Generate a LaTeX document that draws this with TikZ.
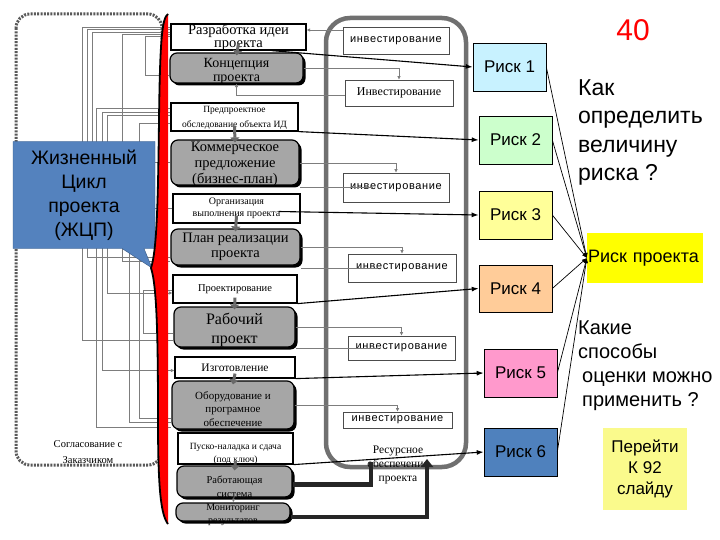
\documentclass[tikz,border=0pt]{standalone}
\usepackage{fontspec}
\setmainfont{Liberation Serif}
\setsansfont{Liberation Sans}
\usetikzlibrary{arrows.meta,shapes.callouts,shadows}

\definecolor{boxgray}{RGB}{166,166,166}
\definecolor{linegray}{RGB}{125,125,125}
\definecolor{arrowgray}{RGB}{105,105,105}
\definecolor{framegray}{RGB}{112,112,112}
\definecolor{callblue}{RGB}{84,130,190}
\definecolor{riskA}{RGB}{200,242,255}
\definecolor{riskB}{RGB}{204,255,204}
\definecolor{riskC}{RGB}{255,255,153}
\definecolor{riskD}{RGB}{255,204,153}
\definecolor{riskE}{RGB}{255,153,204}
\definecolor{riskF}{RGB}{79,129,189}
\definecolor{projyellow}{RGB}{255,255,0}
\definecolor{gotoyellow}{RGB}{250,250,140}

\newcommand\fsz[2]{\fontsize{#1}{#2}\selectfont}
% text that may spill over its box, as in the slide
\newcommand\btext[2][0pt]{\makebox[0pt]{\raisebox{\dimexpr#1-0.25em\relax}[0pt][0pt]{\parbox[c]{6cm}{\centering #2}}}}

\begin{document}
\begin{tikzpicture}
  [x=1pt, y=-1pt,
   dims/.style 2 args={minimum width=#1pt, minimum height=#2pt},
   wbox/.style={draw, line width=1.2pt, fill=white, inner sep=0pt},
   gbox/.style={draw, line width=1.2pt, fill=boxgray, rounded corners=7pt, inner sep=0pt,
     drop shadow={shadow xshift=2.5pt, shadow yshift=-2.5pt, fill=black, opacity=1}},
   invbox/.style={draw=black!70, line width=0.6pt, fill=white, inner sep=0pt,
     font=\sffamily\fsz{11}{13}\addfontfeature{LetterSpace=6}},
   riskbox/.style={draw, line width=0.6pt, inner sep=0pt, minimum width=73pt, minimum height=48pt,
     font=\sffamily\fsz{17}{20}},
   gline/.style={draw=linegray, line width=0.8pt},
   garr/.style={gline, -{Latex[length=3.5pt,width=3.5pt]}},
   darr/.style={draw=arrowgray, line width=3pt, -{Triangle[length=5pt,width=9pt]}},
   rarr/.style={line width=1.1pt, -{Latex[length=7pt,width=5pt]}},
   tolink/.style={line width=0.7pt, -{Latex[length=5pt,width=4pt]}},
   feed/.style={draw=black!85, line width=4.5pt},
   dotframe/.style={draw=black!65, line width=3pt, dash pattern=on 2pt off 1.3pt, rounded corners=14pt},
   invframe/.style={draw=framegray, line width=4.5pt, rounded corners=24pt}]

  \useasboundingbox[fill=white] (0,0) rectangle (720,540);

  % left: agreement with the customer
  \draw[dotframe] (16,14) rectangle (162,465);
  \node[font=\fsz{10.5}{16}, align=center] (agree) at (88,452) {Согласование с\\Заказчиком};

  % life cycle stages (centre column)
  \node[wbox, dims={135}{26}] (idea) at (238.5,37) {\fsz{14.5}{13}\btext{Разработка идеи\\проекта}};
  \node[gbox, dims={133}{30}] (konc) at (236.5,68) {\fsz{14}{14}\btext[-4pt]{Концепция\\проекта}};
  \node[wbox, dims={127}{28}] (predpr) at (234.5,117) {\fsz{9.5}{15}\btext[-1pt]{Предпроектное\\обследование объекта ИД}};
  \node[gbox, dims={128}{45}] (komm) at (235,162.5) {\fsz{14.5}{16}\btext[-2pt]{Коммерческое\\предложение\\(бизнес-план)}};
  \node[wbox, dims={127}{29}] (org) at (236.5,208.5) {\fsz{10}{12}\btext{Организация\\выполнения проекта}};
  \node[gbox, dims={129}{36}] (plan) at (235.5,247) {\fsz{14.5}{15}\btext{План реализации\\проекта}};
  \node[wbox, dims={124}{28}] (proekt) at (235,289) {\fsz{10.5}{12}\btext{Проектирование}};
  \node[gbox, dims={121}{40}] (rab) at (234.5,327) {\fsz{16}{19}\btext[-3pt]{Рабочий\\проект}};
  \node[wbox, dims={120}{21}] (izgot) at (235,367.5) {\fsz{11.5}{13}\btext{Изготовление}};
  \node[gbox, dims={122}{48}] (oborud) at (233,405) {\fsz{11}{13.5}\btext[-4pt]{Оборудование и\\програмное\\обеспечение}};
  \node[wbox, dims={115}{31}] (pusk) at (235.5,448.5) {\fsz{9.5}{13}\btext[-5pt]{Пуско-наладка и сдача\\(под ключ)}};
  \node[gbox, dims={115}{31}] (rabsys) at (234.5,481.5) {\fsz{10.5}{14}\btext[-5pt]{Работающая\\система}};
  \node[gbox, dims={114}{18}] (monitor) at (233,512) {\fsz{10}{13}\btext[-3pt]{Мониторинг\\результатов}};

  % links on the left side of the column
  \draw[gline] ([yshift=10pt]idea.west) -- ++(-88,0) |- ([yshift=-13pt]rab.west);
  \draw[gline] ([yshift=8pt]idea.west) -- ++(-83,0) |- ([yshift=-10pt]plan.west);
  \draw[gline] ([yshift=5pt]idea.west) -- ++(-78,0) |- (komm.west);
  \draw[gline] ([yshift=3pt]idea.west) -- ++(-48,0) |- ([yshift=-14pt]plan.west);
  \draw[gline] ([yshift=1pt]idea.west) -- ++(-25,0) |- ([yshift=-7pt]konc.west);
  \draw[gline] ([yshift=9pt]predpr.west) -- ++(-74,0) |- ([yshift=-22pt]oborud.west);
  \draw[garr] ([yshift=5pt]predpr.west) -- ++(-68,0) |- ([yshift=-3pt]izgot.west);
  \draw[garr] ([yshift=2pt]predpr.west) -- ++(-63,0) |- ([yshift=-4pt]proekt.west);
  \draw[gline] ([yshift=-6pt]predpr.west) -- ++(-31,0) |- ([yshift=-13pt]oborud.west);
  \draw[gline] (org.west) -- ++(-43,0) |- ([yshift=-17pt]oborud.west);
  \draw[gline] ([yshift=-1pt]proekt.west) -- ++(-29,0) |- ([yshift=-6pt]rab.west);

  % life cycle callout
  \node[rectangle callout, callout absolute pointer={(152,268)}, callout pointer width=22pt,
        fill=callblue, draw=callblue!70!black, dims={142}{107}, align=center,
        font=\sffamily\fsz{19.5}{24}] (zhcp) at (84,195) {Жизненный\\Цикл\\проекта\\(ЖЦП)};

  % red brace
  \fill[red] (168,14) .. controls (162,18) and (160,40) .. (159,120)
    .. controls (158,200) and (157,250) .. (151,268)
    .. controls (157,286) and (158,340) .. (158,420)
    .. controls (158,490) and (161,515) .. (168,524) -- cycle;
  \draw[line width=1.8pt] (168,14) .. controls (162,18) and (160,40) .. (159,120)
    .. controls (158,200) and (157,250) .. (151,268)
    .. controls (157,286) and (158,340) .. (158,420)
    .. controls (158,490) and (161,515) .. (168,524);

  % investment column
  \draw[invframe] (326,18) rectangle (466,467);
  \node[invbox, dims={106}{27}] (inv1) at (396,40.5) {инвестирование};
  \node[invbox, dims={108}{26}, font=\rmfamily\fsz{12}{13}] (inv2) at (399,93) {Инвестирование};
  \node[invbox, dims={106}{29}] (inv3) at (396,187.5) {инвестирование};
  \node[invbox, dims={108}{28}] (inv4) at (402,268) {инвестирование};
  \node[invbox, dims={107}{24}] (inv5) at (401.5,348) {инвестирование};
  \node[invbox, dims={109}{16}] (inv6) at (397.5,420) {инвестирование};
  \node[font=\fsz{11.5}{14}, align=center] (res) at (398,465) {Ресурсное\\обеспечение\\проекта};

  \path ([yshift=7pt]idea.east) coordinate (i1);
  \draw[garr] (i1 -| inv1.west) -- (i1);
  \draw[garr] (konc.east) -| (inv2.north);
  \draw[garr] ([yshift=-2pt]inv2.west) -| (konc.south);
  \draw[garr] ([yshift=-1pt]komm.east) -| (inv3.north);
  \draw[gline] ([xshift=30pt]inv3.west) -- (inv3.west -| komm.east);
  \draw[garr] (plan.east) -| (inv4.north);
  \draw[gline] ([xshift=30pt]inv4.west) -- (inv4.west -| plan.east);
  \draw[garr] (rab.east) -| (inv5.north);
  \draw[gline] ([xshift=30pt]inv5.west) -- (inv5.west -| rab.east);
  \draw[garr] (oborud.east) -| (inv6.north);

  % stage to stage
  \draw[darr] ([yshift=7pt]idea.south) -- ([yshift=-3pt]konc.north);
  \draw[darr] ([yshift=6pt]predpr.south) -- ([yshift=-3pt]komm.north);
  \draw[darr] ([yshift=8pt]org.south) -- ([yshift=-3pt]plan.north);
  \draw[darr] ([yshift=6pt]proekt.south) -- ([yshift=-3pt]rab.north);
  \draw[darr] ([yshift=5pt]izgot.south) -- ([yshift=-4pt]oborud.north);
  \draw[darr] ([yshift=4pt]pusk.south) -- ([yshift=-5pt]rabsys.north);
  \draw[garr] ([yshift=3pt]rabsys.south) -- (monitor.north);

  % feedback to resources
  \coordinate (rs1) at (371,462);
  \coordinate (rs2) at (427,459);
  \draw[feed] ([yshift=-3pt]rabsys.east) -| (rs1);
  \draw[feed, -{Triangle[length=8pt,width=12pt]}] ([yshift=-5pt]monitor.east) -| (rs2);

  % risks
  \node[riskbox, fill=riskA] (r1) at (509.5,67) {Риск 1};
  \node[riskbox, fill=riskB] (r2) at (515.5,140) {Риск 2};
  \node[riskbox, fill=riskC] (r3) at (515.5,215) {Риск 3};
  \node[riskbox, fill=riskD, dims={73}{47}] (r4) at (515.5,288.5) {Риск 4};
  \node[riskbox, fill=riskE] (r5) at (520.5,373) {Риск 5};
  \node[riskbox, fill=riskF] (r6) at (520.5,452) {Риск 6};

  \draw[rarr] ([xshift=-35pt]idea.south east) -- (r1.west);
  \draw[rarr] (predpr.south east) -- (r2.west);
  \draw[rarr] ([xshift=-22pt,yshift=-3pt]org.east) -- (r3.west);
  \draw[rarr] (proekt.south east) -- (r4.west);
  \draw[rarr] (izgot.south east) -- (r5.west);
  \draw[rarr] (pusk.south east) -- (r6.west);

  % project risk
  \node[fill=projyellow, dims={116}{50}, text width=114pt, align=left, inner sep=1pt,
        font=\sffamily\fsz{18}{20}] (rp) at (645,258) {\raisebox{-4pt}{Риск проекта}};
  \draw[tolink] (r1.east) -- (rp.west);
  \draw[tolink] (r2.east) -- (rp.west);
  \draw[tolink] (r3.east) -- (rp.west);
  \draw[tolink] (r4.east) -- (rp.west);
  \draw[tolink] (r5.east) -- (rp.west);
  \draw[tolink] (r6.east) -- (rp.west);

  % questions
  \node[text=red, font=\sffamily\fsz{30}{30}] (slide) at (633,30) {40};
  \node[anchor=north west, align=left, inner sep=0pt, font=\sffamily\fsz{23}{28.5}] (howto)
    at (578,79) {Как\\определить\\величину\\риска ?};
  \node[anchor=north west, align=left, inner sep=0pt, font=\sffamily\fsz{20}{24}] (methods)
    at (578,321) {Какие\\способы\\\hspace*{4pt}оценки можно\\\hspace*{4pt}применить ?};
  \node[fill=gotoyellow, dims={84}{82}, align=center, font=\sffamily\fsz{17}{21}] (goto)
    at (645,469) {Перейти\\К 92\\слайду};
\end{tikzpicture}
\end{document}
